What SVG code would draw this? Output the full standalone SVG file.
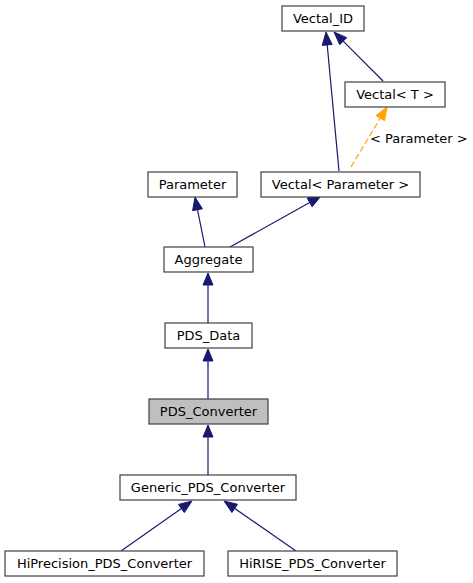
<svg xmlns="http://www.w3.org/2000/svg" width="473" height="583" viewBox="0 0 473 583">
<style>
.n rect{fill:#fff;stroke:#404040;stroke-width:1.2}
.n text{font-family:"DejaVu Sans",sans-serif;font-size:13px;fill:#000;text-anchor:middle}
.e line{stroke:#191970;stroke-width:1.2;fill:none}
.e polygon{fill:#191970;stroke:#191970;stroke-width:1}
.e .d{stroke:#ffa500;stroke-dasharray:6,3}
.e polygon.o{fill:#ffa500;stroke:#ffa500}
.lbl{font-family:"DejaVu Sans",sans-serif;font-size:13px;fill:#000}
</style>
<rect width="473" height="583" fill="#fff"/>
<g id="connectors" class="e">
<line x1="208" y1="475" x2="208" y2="437"/><polygon points="208,425 203,437 213,437"/>
<line x1="208" y1="399" x2="208" y2="361"/><polygon points="208,349 203,361 213,361"/>
<line x1="208" y1="323" x2="208" y2="285"/><polygon points="208,273 203,285 213,285"/>
<line x1="121" y1="551" x2="181.4" y2="508.5"/><polygon points="192,501 184.3,512.6 178.5,504.4"/>
<line x1="296" y1="551" x2="234.7" y2="508.4"/><polygon points="224,501 237.5,504.3 231.9,512.5"/>
<line x1="205" y1="247" x2="197.5" y2="209.7"/><polygon points="195,197 202.4,208.8 192.6,210.7"/>
<line x1="230" y1="247" x2="309.7" y2="202.4"/><polygon points="321,196 312.1,206.8 307.2,198"/>
<line x1="339" y1="171" x2="327.2" y2="44.9"/><polygon points="326,32 332.2,44.4 322.2,45.4"/>
<line x1="383" y1="81" x2="343.2" y2="41.2"/><polygon points="334,32 346.7,37.7 339.7,44.7"/>
<line class="d" x1="351" y1="167" x2="380.3" y2="118.1"/><polygon class="o" points="387,107 384.6,120.7 376,115.6"/>
<text class="lbl" x="370" y="143">&lt; Parameter &gt;</text>
</g>
<g id="Vectal_ID" class="n"><rect x="282" y="6" width="82" height="25"/><text x="323" y="23">Vectal_ID</text></g>
<g id="Vectal_T" class="n"><rect x="345" y="82" width="100" height="25"/><text x="395" y="99">Vectal&lt; T &gt;</text></g>
<g id="Parameter" class="n"><rect x="148" y="172" width="89" height="25"/><text x="192.5" y="189">Parameter</text></g>
<g id="Vectal_Parameter" class="n"><rect x="261" y="172" width="159" height="25"/><text x="340.5" y="189">Vectal&lt; Parameter &gt;</text></g>
<g id="Aggregate" class="n"><rect x="164" y="247" width="89" height="25"/><text x="208.5" y="264">Aggregate</text></g>
<g id="PDS_Data" class="n"><rect x="165" y="323" width="87" height="25"/><text x="208.5" y="340">PDS_Data</text></g>
<g id="PDS_Converter" class="n"><rect x="149" y="399" width="119" height="25" style="fill:#bfbfbf"/><text x="208.5" y="416">PDS_Converter</text></g>
<g id="Generic_PDS_Converter" class="n"><rect x="120" y="475" width="176" height="25"/><text x="208" y="492">Generic_PDS_Converter</text></g>
<g id="HiPrecision_PDS_Converter" class="n"><rect x="5" y="551" width="199" height="25"/><text x="104.5" y="568">HiPrecision_PDS_Converter</text></g>
<g id="HiRISE_PDS_Converter" class="n"><rect x="228" y="551" width="169" height="25"/><text x="312.5" y="568">HiRISE_PDS_Converter</text></g>
</svg>
